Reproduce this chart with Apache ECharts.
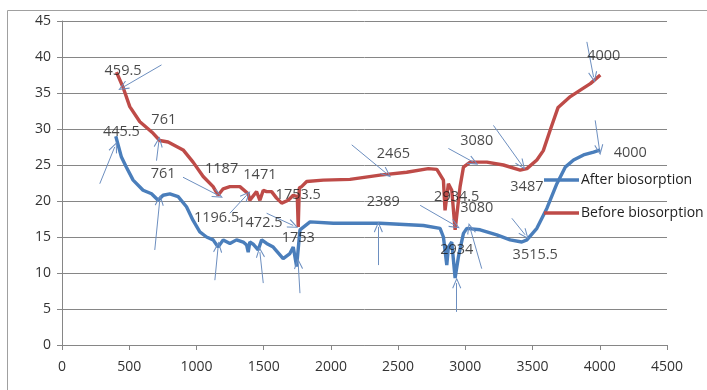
<!DOCTYPE html>
<html><head><meta charset="utf-8">
<script src="https://cdn.jsdelivr.net/npm/echarts@6/dist/echarts.min.js"></script>
<style>html,body{margin:0;padding:0;background:#fff}#c{width:707px;height:390px}</style>
</head><body><div id="c"></div>
<script>
var xTicks = [0, 500, 1000, 1500, 2000, 2500, 3000, 3500, 4000, 4500];
var yTicks = [0, 5, 10, 15, 20, 25, 30, 35, 40, 45];

var afterX = [400, 442, 479, 529, 603, 666, 715, 752, 802, 864, 926, 975, 1025, 1075, 1124, 1161, 1199, 1249, 1298, 1348, 1373, 1385, 1397, 1422, 1459, 1485, 1522, 1571, 1645, 1695, 1720, 1745, 1770, 1845, 2018, 2217, 2365, 2688, 2812, 2837, 2862, 2874, 2899, 2924, 2949, 2986, 3011, 3110, 3234, 3333, 3420, 3458, 3532, 3607, 3681, 3743, 3805, 3879, 3954, 4004];
var afterY = [29.0, 26.1, 24.7, 22.9, 21.5, 21.0, 20.1, 20.8, 21.0, 20.6, 19.2, 17.3, 15.7, 15.0, 14.6, 13.6, 14.6, 14.1, 14.6, 14.3, 13.9, 12.9, 14.3, 14.0, 13.2, 14.6, 14.1, 13.6, 12.0, 12.7, 13.6, 10.9, 16.0, 17.1, 16.9, 16.9, 16.9, 16.6, 16.2, 15.0, 11.1, 13.6, 14.3, 9.3, 12.3, 15.5, 16.2, 16.0, 15.3, 14.6, 14.3, 14.6, 16.2, 19.0, 22.4, 24.7, 25.7, 26.4, 26.8, 27.1];

var beforeX = [405, 454, 504, 579, 678, 727, 789, 901, 975, 1050, 1124, 1161, 1199, 1249, 1323, 1385, 1397, 1447, 1472, 1497, 1522, 1559, 1596, 1634, 1683, 1720, 1750, 1757, 1765, 1782, 1820, 1943, 2142, 2365, 2564, 2725, 2788, 2837, 2849, 2874, 2899, 2924, 2961, 2986, 3036, 3160, 3283, 3408, 3458, 3532, 3580, 3632, 3690, 3781, 3855, 3930, 4004];
var beforeY = [37.9, 35.8, 33.1, 31.0, 29.4, 28.4, 28.2, 27.1, 25.4, 23.4, 22.0, 20.8, 21.7, 22.0, 22.0, 21.0, 20.1, 21.3, 20.1, 21.5, 21.3, 21.3, 20.4, 19.7, 20.1, 20.8, 20.6, 16.4, 21.8, 22.0, 22.7, 22.9, 23.0, 23.6, 24.0, 24.5, 24.4, 22.9, 18.7, 22.4, 21.5, 16.0, 22.0, 24.7, 25.4, 25.4, 25.0, 24.3, 24.5, 25.7, 27.0, 29.9, 33.0, 34.5, 35.4, 36.3, 37.5];

var labelText = ["459.5", "761", "445.5", "761", "1187", "1471", "1196.5", "1472.5", "1753.5", "1753", "2465", "2389", "2934.5", "3080", "3080", "2934", "3487", "3515.5", "4000", "4000"];
var labelX = [454, 757, 442, 752, 1187, 1472, 1150, 1472, 1757, 1757, 2465, 2390, 2936, 3085, 3085, 2936, 3458, 3520, 4030, 4227];
var labelY = [38.1, 31.2, 29.6, 23.8, 24.5, 23.6, 17.6, 17.0, 20.9, 14.9, 26.6, 19.9, 20.6, 28.4, 19.0, 13.2, 21.9, 12.5, 40.2, 26.7];

var arrowFromX = [740, 703, 281, 690, 900, 1249, 1137, 1497, 1522, 1770, 2155, 2353, 2664, 2874, 3122, 2936, 3209, 3346, 3904, 3966];
var arrowFromY = [38.9, 25.6, 22.4, 13.2, 23.3, 18.3, 9.0, 8.6, 18.3, 7.2, 27.8, 11.1, 19.4, 27.3, 10.6, 4.6, 30.5, 17.6, 42.1, 31.2];
var arrowToX = [454, 720, 392, 727, 1161, 1373, 1161, 1472, 1720, 1757, 2415, 2353, 2924, 3060, 3036, 2936, 3420, 3445, 3954, 3998];
var arrowToY = [35.8, 28.2, 27.5, 20.1, 20.8, 20.8, 13.6, 12.9, 16.6, 11.3, 23.8, 16.4, 16.6, 25.4, 16.2, 8.6, 25.0, 15.3, 37.2, 27.1];

function pairs(xs, ys) { return xs.map(function (x, i) { return [x, ys[i]]; }); }

var FONT = 'Open Sans';
var arrowColor = '#6d8fc0';
var arrowLines = arrowFromX.map(function (x, i) {
  return [{ coord: [x, arrowFromY[i]], symbol: 'none' },
          { coord: [arrowToX[i], arrowToY[i]], symbol: 'path://M0,0 L5,10 L4,10.6 L0,2.4 L-4,10.6 L-5,10 Z', symbolSize: [9, 11] }];
});

var chart = echarts.init(document.getElementById('c'), null, { renderer: 'canvas' });
chart.setOption({
  animation: false,
  backgroundColor: '#fff',
  textStyle: { fontFamily: FONT },
  graphic: [{ type: 'rect', shape: { x: 7.5, y: 10.5, width: 720, height: 400 }, style: { fill: 'none', stroke: '#a0a0a0', lineWidth: 1 }, z: -1 }],
  grid: { left: 62, right: 40, top: 21, bottom: 45 },
  legend: {
    orient: 'vertical', left: 539, top: 168, itemGap: 19,
    icon: 'rect', itemWidth: 35, itemHeight: 3.5,
    textStyle: { fontSize: 14, color: '#222', fontFamily: FONT, padding: [0, 0, 0, -3] },
    data: ['After biosorption', 'Before biosorption']
  },
  xAxis: {
    type: 'value', min: xTicks[0], max: xTicks[xTicks.length - 1], interval: 500,
    axisLine: { lineStyle: { color: '#868686' } },
    axisTick: { show: true, length: 5, lineStyle: { color: '#868686' } },
    splitLine: { show: false },
    axisLabel: { color: '#333', fontSize: 14, margin: 15, fontFamily: FONT, formatter: function (v) { return String(v); } }
  },
  yAxis: {
    type: 'value', min: yTicks[0], max: yTicks[yTicks.length - 1], interval: 5,
    axisLine: { show: true, lineStyle: { color: '#868686' } },
    axisTick: { show: true, length: 5, lineStyle: { color: '#868686' } },
    splitLine: { lineStyle: { color: '#868686', width: 1 } },
    axisLabel: { color: '#333', fontSize: 14, margin: 11, fontFamily: FONT, formatter: function (v) { return String(v); } }
  },
  series: [
    { name: 'After biosorption', type: 'line', data: pairs(afterX, afterY), showSymbol: false, symbol: 'none',
      lineStyle: { color: '#4a7ebb', width: 3.4 }, itemStyle: { color: '#4a7ebb' }, z: 3 },
    { name: 'Before biosorption', type: 'line', data: pairs(beforeX, beforeY), showSymbol: false, symbol: 'none',
      lineStyle: { color: '#be4b48', width: 3.4 }, itemStyle: { color: '#be4b48' }, z: 2 },
    { name: 'arrows', type: 'line', data: [], z: 4,
      markLine: { silent: true, animation: false, label: { show: false },
        lineStyle: { color: arrowColor, width: 1, type: 'solid' }, emphasis: { disabled: true },
        data: arrowLines } },
    { name: 'labels', type: 'scatter', symbolSize: 0, z: 5, silent: true,
      data: labelX.map(function (x, i) { return { value: [x, labelY[i]], name: labelText[i] }; }),
      label: { show: true, position: 'inside', formatter: function (p) { return p.name; },
        color: '#1a1a1a', fontSize: 14.5, fontFamily: FONT } }
  ]
});
</script></body></html>
